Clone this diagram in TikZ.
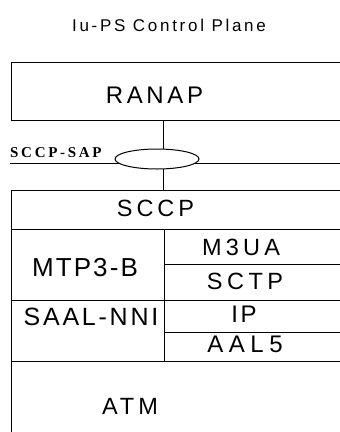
\documentclass[tikz,border=0pt]{standalone}
\usepackage{fontspec}
\setmainfont{Liberation Sans}
\newfontfamily\serifbold{Liberation Serif}[BoldFont={* Bold}]
\usetikzlibrary{shapes.geometric}
\newcommand\mylab[3]{\fontsize{#1}{#1}\selectfont\addfontfeature{LetterSpace=#2}#3}
\tikzset{
  box/.style={draw, line width=1pt, rectangle, inner sep=0pt},
  txt/.style={anchor=base, inner sep=0pt},
  conn/.style={line width=1pt},
}
\begin{document}
\begin{tikzpicture}[x=1pt,y=-1pt]
\useasboundingbox (0,0) rectangle (340,432);
\clip (0,0) rectangle (340,432);
% title
\node[txt] (title) at (169,31) {\mylab{17}{16}{Iu-PS Control Plane}};
% boxes
\node[box, minimum width=331pt, minimum height=58pt] (ranap) at (176.5,91) {};
\node[box, minimum width=331pt, minimum height=39pt] (sccp) at (176.5,209.5) {};
\node[box, minimum width=153pt, minimum height=71pt] (mtp) at (87.5,264.5) {};
\node[box, minimum width=178pt, minimum height=35pt] (m3ua) at (253,246.5) {};
\node[box, minimum width=178pt, minimum height=36pt] (sctp) at (253,282) {};
\node[box, minimum width=153pt, minimum height=61pt] (saal) at (87.5,330.5) {};
\node[box, minimum width=178pt, minimum height=32pt] (ip) at (253,316) {};
\node[box, minimum width=178pt, minimum height=29pt] (aal) at (253,346.5) {};
\node[box, minimum width=331pt, minimum height=79pt] (atm) at (176.5,400.5) {};
% labels
\node[txt] (tranap) at (154.5,103.5) {\mylab{24}{15}{RANAP}};
\node[txt] (tsccp) at (155.5,216) {\mylab{23.5}{17}{SCCP}};
\node[txt] (tmtp) at (85,276.5) {\mylab{26}{8}{MTP3-B}};
\node[txt] (tm3ua) at (241,255.5) {\mylab{23.5}{18}{M3UA}};
\node[txt] (tsctp) at (245,289) {\mylab{23.5}{19}{SCTP}};
\node[txt] (tsaal) at (91,325.5) {\mylab{25}{11}{SAAL-NNI}};
\node[txt] (tip) at (244,322) {\mylab{24}{11}{IP}};
\node[txt] (taal) at (245,352) {\mylab{24}{23}{AAL5}};
\node[txt] (tatm) at (130,414) {\mylab{23.5}{17}{ATM}};
% SAP
\coordinate (sapL) at (10,163);
\coordinate (sapR) at (342,163);
\draw[conn] (sapL) -- (sapR);
\draw[conn] ([xshift=-13.5pt]ranap.south) -- ([xshift=-13.5pt]sccp.north);
\node[draw, line width=1pt, fill=white, ellipse, minimum width=84pt, minimum height=20pt, inner sep=0pt] (sap) at (157,159) {};
\node[anchor=base west, inner sep=0pt] (tsap) at (10,157.5) {\serifbold\bfseries\mylab{15}{18}{SCCP-SAP}};
\end{tikzpicture}
\end{document}
